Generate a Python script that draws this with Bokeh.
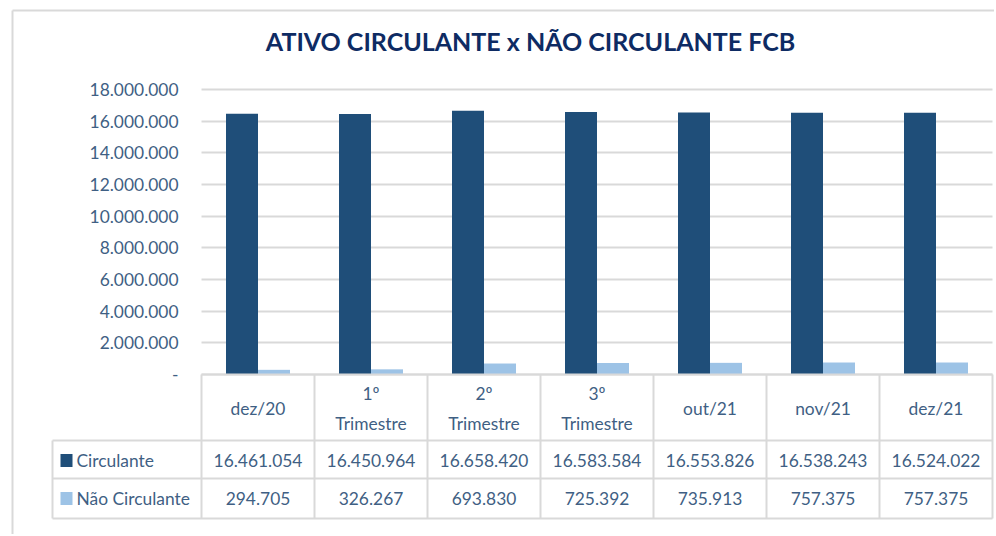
from bokeh.plotting import figure
from bokeh.models import Range1d, LinearAxis, FixedTicker, Grid
from bokeh.core.properties import value
from bokeh.embed import file_html
from bokeh.resources import INLINE

# ---------------- data ----------------
categories = ["dez/20", "1º\nTrimestre", "2º\nTrimestre", "3º\nTrimestre", "out/21", "nov/21", "dez/21"]
circulante = [16461054, 16450964, 16658420, 16583584, 16553826, 16538243, 16524022]
nao_circulante = [294705, 326267, 693830, 725392, 735913, 757375, 757375]
series_names = ["Circulante", "Não Circulante"]
y_ticks = [0, 2000000, 4000000, 6000000, 8000000, 10000000, 12000000, 14000000, 16000000, 18000000]
y_tick_labels = ["-", "2.000.000", "4.000.000", "6.000.000", "8.000.000", "10.000.000",
                 "12.000.000", "14.000.000", "16.000.000", "18.000.000"]
title_text = "ATIVO CIRCULANTE x NÃO CIRCULANTE FCB"

# ---------------- style / layout ----------------
W, H = 994, 534
COL_PX = 113.0          # width of one category column in px
B0 = 201                # canvas x of first category boundary
ZERO_Y = 374            # canvas y of value 0
TOP_Y = 89              # canvas y of 18.000.000
HDR_BOT, ROW1_BOT, ROW2_BOT = 440, 478, 518
LEG_LEFT_PX = 52
DARK = "#1F4E79"
LIGHT = "#9DC3E6"
TXT = "#3F5F84"
GRIDC = "#D9D9D9"
FONT = "Lato"
FS = "17.4px"

n = len(categories)
per_px = (y_ticks[-1] - y_ticks[0]) / (ZERO_Y - TOP_Y)

p = figure(width=W, height=H, output_backend="svg", toolbar_location=None,
           x_axis_type=None, y_axis_type=None,
           x_range=Range1d(-B0 / COL_PX, (W - B0) / COL_PX),
           y_range=Range1d(-(H - ZERO_Y) * per_px, ZERO_Y * per_px),
           min_border=0, outline_line_color=None,
           background_fill_color="white", border_fill_color="white")
p.extra_x_ranges = {"px": Range1d(0, W)}
p.extra_y_ranges = {"tbl": Range1d(H, 0)}

# y axis placed at the first category boundary
ticker = FixedTicker(ticks=y_ticks)
yax = LinearAxis(ticker=ticker, fixed_location=0,
                 major_label_overrides={t: l for t, l in zip(y_ticks, y_tick_labels)},
                 axis_line_color=None, major_tick_line_color=None, minor_tick_line_color=None,
                 major_tick_out=0, major_tick_in=0, major_label_standoff=23,
                 major_label_text_font=FONT, major_label_text_font_size=FS,
                 major_label_text_color=TXT)
p.add_layout(yax, "left")
grid = Grid(dimension=1, ticker=ticker, cross_bounds=(0, n),
            grid_line_color=GRIDC, grid_line_width=2)
p.add_layout(grid)

# bars
bw = 32 / COL_PX
centers = [i + 0.5 for i in range(n)]
p.vbar(x=[c - bw / 2 for c in centers], top=circulante, width=bw, bottom=0,
       fill_color=DARK, line_color=None)
p.vbar(x=[c + bw / 2 for c in centers], top=nao_circulante, width=bw, bottom=0,
       fill_color=LIGHT, line_color=None)

# data table below the chart
leg_left = (LEG_LEFT_PX - B0) / COL_PX
hx0 = [0, leg_left, leg_left, leg_left]
hx1 = [n, n, n, n]
hy = [ZERO_Y, HDR_BOT, ROW1_BOT, ROW2_BOT]
p.segment(x0=hx0, x1=hx1, y0=hy, y1=hy, y_range_name="tbl",
          line_color=GRIDC, line_width=2)
vx = list(range(n + 1)) + [leg_left]
vy0 = [ZERO_Y] * (n + 1) + [HDR_BOT]
vy1 = [ROW2_BOT] * (n + 2)
p.segment(x0=vx, x1=vx, y0=vy0, y1=vy1, y_range_name="tbl",
          line_color=GRIDC, line_width=2)

p.text(x=centers, y=[(ZERO_Y + HDR_BOT) / 2 + 1] * n, text=categories, y_range_name="tbl",
       text_align="center", text_baseline="middle", text_font=value(FONT),
       text_font_size=FS, text_color=TXT, text_line_height=1.4)
p.text(x=centers, y=[(HDR_BOT + ROW1_BOT) / 2 + 1] * n,
       text=[f"{v:,}".replace(",", ".") for v in circulante], y_range_name="tbl",
       text_align="center", text_baseline="middle", text_font=value(FONT),
       text_font_size=FS, text_color=TXT)
p.text(x=centers, y=[(ROW1_BOT + ROW2_BOT) / 2] * n,
       text=[f"{v:,}".replace(",", ".") for v in nao_circulante], y_range_name="tbl",
       text_align="center", text_baseline="middle", text_font=value(FONT),
       text_font_size=FS, text_color=TXT)

# legend keys inside table
row_c = [(HDR_BOT + ROW1_BOT) / 2 + 1, (ROW1_BOT + ROW2_BOT) / 2]
p.rect(x=[66, 66], y=row_c, width=12, height=13, x_range_name="px", y_range_name="tbl",
       fill_color=[DARK, LIGHT], line_color=None)
p.text(x=[76, 76], y=row_c, text=series_names, x_range_name="px", y_range_name="tbl",
       text_align="left", text_baseline="middle", text_font=value(FONT),
       text_font_size=FS, text_color=TXT)

# title
p.text(x=[530], y=[40], text=[title_text], x_range_name="px", y_range_name="tbl",
       text_align="center", text_baseline="middle", text_font=value(FONT),
       text_font_size="25px", text_font_style="bold", text_color="#0E2B63")

# chart-area border (left & top)
p.segment(x0=[12, 12], x1=[12, W], y0=[10, 10], y1=[H, 10], x_range_name="px", y_range_name="tbl",
          line_color=GRIDC, line_width=2)

open("out.html", "w").write(file_html(p, INLINE))
